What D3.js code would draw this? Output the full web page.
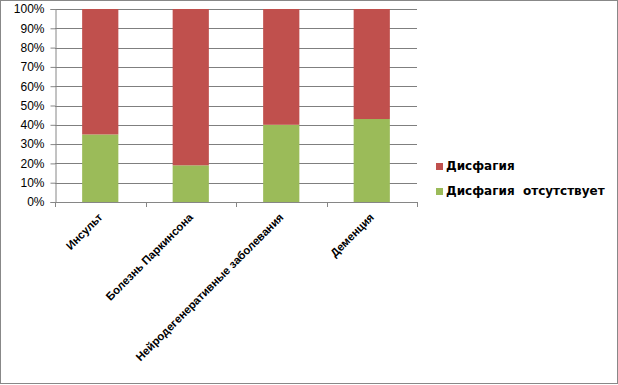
<!DOCTYPE html>
<html><head><meta charset="utf-8">
<script src="https://cdn.jsdelivr.net/npm/d3@7"></script>
<style>body{margin:0;background:#fff}svg{display:block}text{font-family:"DejaVu Sans",sans-serif}</style>
</head><body><svg width="618" height="385"></svg>
<script>
const categories = ["Инсульт","Болезнь Паркинсона","Нейродегенеративные заболевания","Деменция"];
const noDysphagia = [35, 19, 40, 43];
const dysphagia = [65, 81, 60, 57];
const seriesNames = ["Дисфагия","Дисфагия  отсутствует"];
const seriesColors = ["#c0504d","#9bbb59"];
const yTicks = [0,10,20,30,40,50,60,70,80,90,100];

const svg = d3.select("svg");
svg.append("rect").attr("x",0.5).attr("y",0.5).attr("width",617).attr("height",383)
  .attr("fill","#fff").attr("stroke","#888");

const m = {l:55, r:417, t:9, b:202};
const x = d3.scaleBand().domain(categories).range([m.l,m.r]).paddingInner(0.6).paddingOuter(0.3);
const y = d3.scaleLinear().domain([0,100]).range([m.b,m.t]);

// gridlines
svg.append("g").selectAll("line").data(yTicks.filter(d=>d>0)).join("line")
  .attr("x1",m.l).attr("x2",m.r).attr("y1",d=>Math.round(y(d))+0.5).attr("y2",d=>Math.round(y(d))+0.5)
  .attr("stroke","#7f7f7f").attr("stroke-width",1);

// y axis
const ya = svg.append("g").attr("transform",`translate(${m.l+0.5},0)`)
  .call(d3.axisLeft(y).tickValues(yTicks).tickFormat(d=>d+"%").tickSize(5));
ya.select(".domain").attr("stroke","#868686");
ya.selectAll(".tick line").attr("stroke","#868686");
ya.selectAll(".tick text").attr("font-size","12px").attr("fill","#000").attr("x",-11)
  .style("font-family","'Liberation Sans',sans-serif");

// bars
const stackData = categories.map((c,i)=>({c, a:noDysphagia[i], b:dysphagia[i]}));
const g = svg.append("g");
g.selectAll(".g").data(stackData).join("rect")
  .attr("x",d=>x(d.c)).attr("width",x.bandwidth())
  .attr("y",d=>y(d.a)).attr("height",d=>y(0)-y(d.a)).attr("fill",seriesColors[1]);
g.selectAll(".r").data(stackData).join("rect")
  .attr("x",d=>x(d.c)).attr("width",x.bandwidth())
  .attr("y",d=>y(d.a+d.b)).attr("height",d=>y(d.a)-y(d.a+d.b)).attr("fill",seriesColors[0]);

// x axis
const step = (m.r-m.l)/categories.length;
const xa = svg.append("g");
xa.append("line").attr("x1",m.l).attr("x2",m.r).attr("y1",m.b+0.5).attr("y2",m.b+0.5).attr("stroke","#868686");
xa.selectAll(".tk").data(d3.range(categories.length+1)).join("line")
  .attr("x1",i=>Math.round(m.l+i*step)+0.5).attr("x2",i=>Math.round(m.l+i*step)+0.5)
  .attr("y1",m.b).attr("y2",m.b+5).attr("stroke","#868686");
xa.selectAll("text").data(categories).join("text")
  .attr("transform",d=>`translate(${x(d)+x.bandwidth()/2+3},${m.b+16}) rotate(-45)`)
  .attr("text-anchor","end").attr("font-size","11.3px").attr("font-weight","bold").attr("fill","#000")
  .style("font-family","'Liberation Sans',sans-serif")
  .text(d=>d);

// legend
const lg = svg.append("g");
seriesNames.forEach((n,i)=>{
  const yy = 163 + i*25;
  lg.append("rect").attr("x",436).attr("y",yy).attr("width",7).attr("height",7).attr("fill",seriesColors[i]);
  lg.append("text").attr("x",446).attr("y",yy+7).attr("font-size","12px").attr("font-weight","bold")
    .attr("fill","#000").attr("xml:space","preserve").style("white-space","pre").text(n);
});
</script></body></html>
